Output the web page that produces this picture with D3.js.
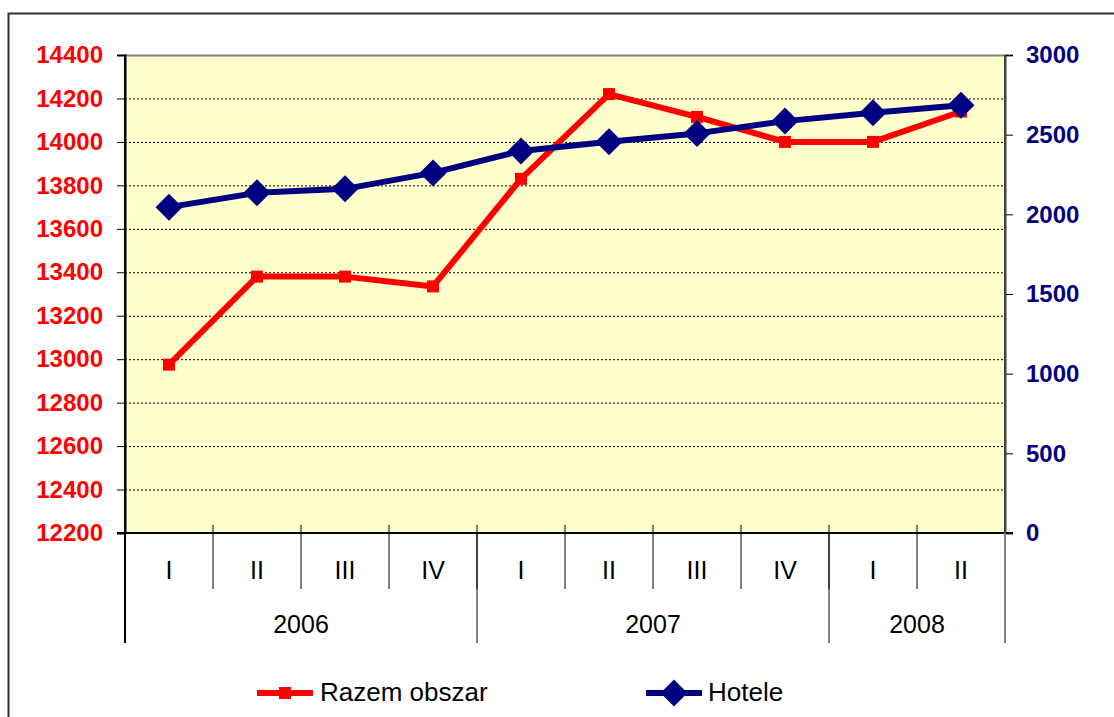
<!DOCTYPE html>
<html>
<head>
<meta charset="utf-8">
<script src="https://cdn.jsdelivr.net/npm/d3@7"></script>
<style>
  body { margin: 0; background: #fff; }
  svg { display: block; font-family: 'Liberation Sans', Arial, sans-serif; }
</style>
</head>
<body>
<div id="chart"></div>
<script>
// quarters and years shown on the category axis
const quarters = ['I', 'II', 'III', 'IV', 'I', 'II', 'III', 'IV', 'I', 'II'];
const years = ['2006', '2006', '2006', '2006', '2007', '2007', '2007', '2007', '2008', '2008'];

// series values
const razemObszar = [12975, 13380, 13380, 13335, 13830, 14220, 14115, 14000, 14000, 14140];
const hotele = [2045, 2135, 2160, 2260, 2398, 2455, 2508, 2585, 2638, 2684];

// axis ticks
const leftTicks = [12200, 12400, 12600, 12800, 13000, 13200, 13400, 13600, 13800, 14000, 14200, 14400];
const rightTicks = [0, 500, 1000, 1500, 2000, 2500, 3000];

const W = 1114, H = 717;
const plot = { left: 125, right: 1005, top: 55, bottom: 533 };

const svg = d3.select('#chart').append('svg')
  .attr('width', W)
  .attr('height', H);

// outer chart frame (runs off the right / bottom edge)
svg.append('rect')
  .attr('x', 8.5).attr('y', 13.5)
  .attr('width', W + 20).attr('height', H + 20)
  .attr('fill', 'none')
  .attr('stroke', '#333')
  .attr('stroke-width', 2);

const idx = d3.range(quarters.length);
const x = d3.scaleBand().domain(idx).range([plot.left, plot.right]);
const yL = d3.scaleLinear().domain([12200, 14400]).range([plot.bottom, plot.top]);
const yR = d3.scaleLinear().domain([0, 3000]).range([plot.bottom, plot.top]);
const cx = i => x(i) + x.bandwidth() / 2;

// plot area
svg.append('rect')
  .attr('x', plot.left).attr('y', plot.top)
  .attr('width', plot.right - plot.left)
  .attr('height', plot.bottom - plot.top)
  .attr('fill', '#ffffcc');

// gridlines
const grid = svg.append('g')
  .attr('transform', 'translate(' + plot.left + ',0)')
  .call(d3.axisLeft(yL).tickValues(leftTicks.slice(1, -1)).tickSize(-(plot.right - plot.left)).tickFormat(''));
grid.select('.domain').remove();
grid.selectAll('line')
  .attr('stroke', '#000')
  .attr('stroke-dasharray', '2,2');

// plot top border
svg.append('line')
  .attr('x1', plot.left).attr('x2', plot.right)
  .attr('y1', plot.top + 0.5).attr('y2', plot.top + 0.5)
  .attr('stroke', '#808080').attr('stroke-width', 2);

// left axis
const gl = svg.append('g')
  .attr('transform', 'translate(' + plot.left + ',0)')
  .call(d3.axisLeft(yL).tickValues(leftTicks).tickSize(8).tickPadding(14).tickFormat(d3.format('d')));
gl.select('.domain').attr('stroke', '#000').attr('stroke-width', 2);
gl.selectAll('.tick line').attr('stroke', '#000');
gl.selectAll('text')
  .attr('fill', '#ff0000')
  .style('font-size', '24px')
  .style('font-weight', 'bold')
  .style('font-family', "'Liberation Sans', Arial, sans-serif");

// right axis
const gr = svg.append('g')
  .attr('transform', 'translate(' + plot.right + ',0)')
  .call(d3.axisRight(yR).tickValues(rightTicks).tickSize(8).tickPadding(13).tickFormat(d3.format('d')));
gr.select('.domain').attr('stroke', '#404040').attr('stroke-width', 2);
gr.selectAll('.tick line').attr('stroke', '#000');
gr.selectAll('text')
  .attr('fill', '#000080')
  .style('font-size', '24px')
  .style('font-weight', 'bold')
  .style('font-family', "'Liberation Sans', Arial, sans-serif");

// category axis
const gx = svg.append('g');
gx.append('line')
  .attr('x1', plot.left - 8).attr('x2', plot.right + 8)
  .attr('y1', plot.bottom).attr('y2', plot.bottom)
  .attr('stroke', '#000').attr('stroke-width', 2);

// quarter separators
gx.selectAll('.qtick')
  .data(idx.slice(1))
  .join('line')
  .attr('class', 'qtick')
  .attr('x1', d => x(d)).attr('x2', d => x(d))
  .attr('y1', plot.bottom - 8).attr('y2', 589)
  .attr('stroke', '#000');

gx.selectAll('.qlabel')
  .data(idx)
  .join('text')
  .attr('class', 'qlabel')
  .attr('x', cx)
  .attr('y', 579)
  .attr('text-anchor', 'middle')
  .style('font-size', '25px')
  .text(d => quarters[d]);

// year groups
const groups = d3.groups(idx, i => years[i]).map(([year, is]) => ({
  year: year,
  x0: x(is[0]),
  x1: x(is[is.length - 1]) + x.bandwidth()
}));
const bounds = [plot.left].concat(groups.map(g => g.x1));
gx.selectAll('.ytick')
  .data(bounds)
  .join('line')
  .attr('class', 'ytick')
  .attr('x1', d => d).attr('x2', d => d)
  .attr('y1', plot.bottom).attr('y2', 643)
  .attr('stroke', (d, i) => i === bounds.length - 1 ? '#808080' : '#000')
  .attr('stroke-width', (d, i) => i === bounds.length - 1 ? 2 : 1);

gx.selectAll('.ylabel')
  .data(groups)
  .join('text')
  .attr('class', 'ylabel')
  .attr('x', d => (d.x0 + d.x1) / 2)
  .attr('y', 633)
  .attr('text-anchor', 'middle')
  .style('font-size', '25px')
  .text(d => d.year);

// plot left / right edges over the fill
svg.append('line')
  .attr('x1', plot.left).attr('x2', plot.left)
  .attr('y1', plot.top).attr('y2', 643)
  .attr('stroke', '#000').attr('stroke-width', 2);
svg.append('line')
  .attr('x1', plot.right).attr('x2', plot.right)
  .attr('y1', plot.top).attr('y2', plot.bottom)
  .attr('stroke', '#404040').attr('stroke-width', 2);

// series
const lineL = d3.line().x((d, i) => cx(i)).y(d => yL(d));
const lineR = d3.line().x((d, i) => cx(i)).y(d => yR(d));

svg.append('path')
  .attr('d', lineL(razemObszar))
  .attr('fill', 'none')
  .attr('stroke', '#ff0000')
  .attr('stroke-width', 6)
  .attr('stroke-linejoin', 'round');

svg.selectAll('.sq')
  .data(razemObszar)
  .join('rect')
  .attr('class', 'sq')
  .attr('x', (d, i) => cx(i) - 6)
  .attr('y', d => yL(d) - 6)
  .attr('width', 12).attr('height', 12)
  .attr('fill', '#ff0000');

svg.append('path')
  .attr('d', lineR(hotele))
  .attr('fill', 'none')
  .attr('stroke', '#000080')
  .attr('stroke-width', 6)
  .attr('stroke-linejoin', 'round');

const diamond = s => 'M0,' + (-s) + 'L' + s + ',0L0,' + s + 'L' + (-s) + ',0Z';
svg.selectAll('.dm')
  .data(hotele)
  .join('path')
  .attr('class', 'dm')
  .attr('transform', (d, i) => 'translate(' + cx(i) + ',' + yR(d) + ')')
  .attr('d', diamond(13.5))
  .attr('fill', '#000080');

// legend
const legend = svg.append('g');
legend.append('line')
  .attr('x1', 257).attr('x2', 313).attr('y1', 693).attr('y2', 693)
  .attr('stroke', '#ff0000').attr('stroke-width', 6);
legend.append('rect')
  .attr('x', 279).attr('y', 687).attr('width', 12).attr('height', 12)
  .attr('fill', '#ff0000');
legend.append('text')
  .attr('x', 320).attr('y', 701)
  .style('font-size', '26px')
  .text('Razem obszar');

legend.append('line')
  .attr('x1', 646).attr('x2', 702).attr('y1', 693).attr('y2', 693)
  .attr('stroke', '#000080').attr('stroke-width', 6);
legend.append('path')
  .attr('transform', 'translate(674,693)')
  .attr('d', diamond(13.5))
  .attr('fill', '#000080');
legend.append('text')
  .attr('x', 708).attr('y', 701)
  .style('font-size', '26px')
  .text('Hotele');
</script>
</body>
</html>
